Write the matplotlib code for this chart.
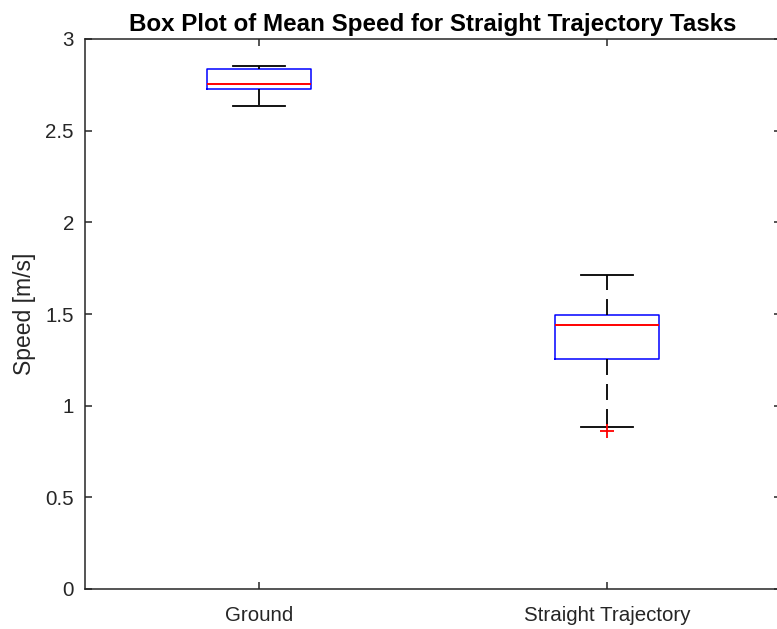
import matplotlib
matplotlib.use('Agg')
import matplotlib.pyplot as plt

plt.rcParams['font.family'] = ['Liberation Sans', 'DejaVu Sans']
plt.rcParams['lines.scale_dashes'] = False

# valores (m/s)
categorias = ['Ground', 'Straight Trajectory']
minimos = [2.636, 0.885]
q1 = [2.725, 1.254]
medianas = [2.756, 1.442]
q3 = [2.836, 1.496]
maximos = [2.854, 1.715]
atipicos = [[], [0.862]]

yticks = [0, 0.5, 1, 1.5, 2, 2.5, 3]
ytick_labels = ['0', '0.5', '1', '1.5', '2', '2.5', '3']

stats = []
for i in range(len(categorias)):
  stats.append({'label': categorias[i], 'whislo': minimos[i], 'q1': q1[i],
                'med': medianas[i], 'q3': q3[i], 'whishi': maximos[i],
                'fliers': atipicos[i]})

fig = plt.figure(figsize=(7.77, 6.29), dpi=100)
ax = fig.add_axes([85 / 777, 1 - 589 / 629, 696 / 777, 550 / 629])

gris = '#262626'
ax.bxp(stats, positions=[1, 2], widths=0.3, capwidths=0.15, showfliers=True,
       boxprops={'color': 'blue', 'linewidth': 1.1},
       medianprops={'color': 'red', 'linewidth': 1.4},
       whiskerprops={'color': 'black', 'linewidth': 1.3, 'linestyle': (0, (11.5, 6.5))},
       capprops={'color': 'black', 'linewidth': 1.3},
       flierprops={'marker': '+', 'markeredgecolor': 'red', 'markersize': 9.5,
                   'markeredgewidth': 1.3, 'linestyle': 'none'})

ax.set_xlim(0.5, 2.5)
ax.set_ylim(0, 3)
ax.set_yticks(yticks)
ax.set_yticklabels(ytick_labels)
ax.set_xticks([1, 2])
ax.set_xticklabels(categorias)

for s in ax.spines.values():
  s.set_color(gris)
  s.set_linewidth(1.1)
ax.tick_params(direction='in', length=5, width=1.1, color=gris, labelcolor=gris,
               labelsize=14.8, top=True, right=True)
ax.tick_params(axis='x', pad=12)
ax.tick_params(axis='y', pad=8)

ax.set_ylabel('Speed [m/s]', fontsize=16.5, color=gris, labelpad=7)
ax.set_title('Box Plot of Mean Speed for Straight Trajectory Tasks',
             fontsize=17.4, fontweight='bold', color='black', pad=6)

fig.savefig('out.png', dpi=100)
